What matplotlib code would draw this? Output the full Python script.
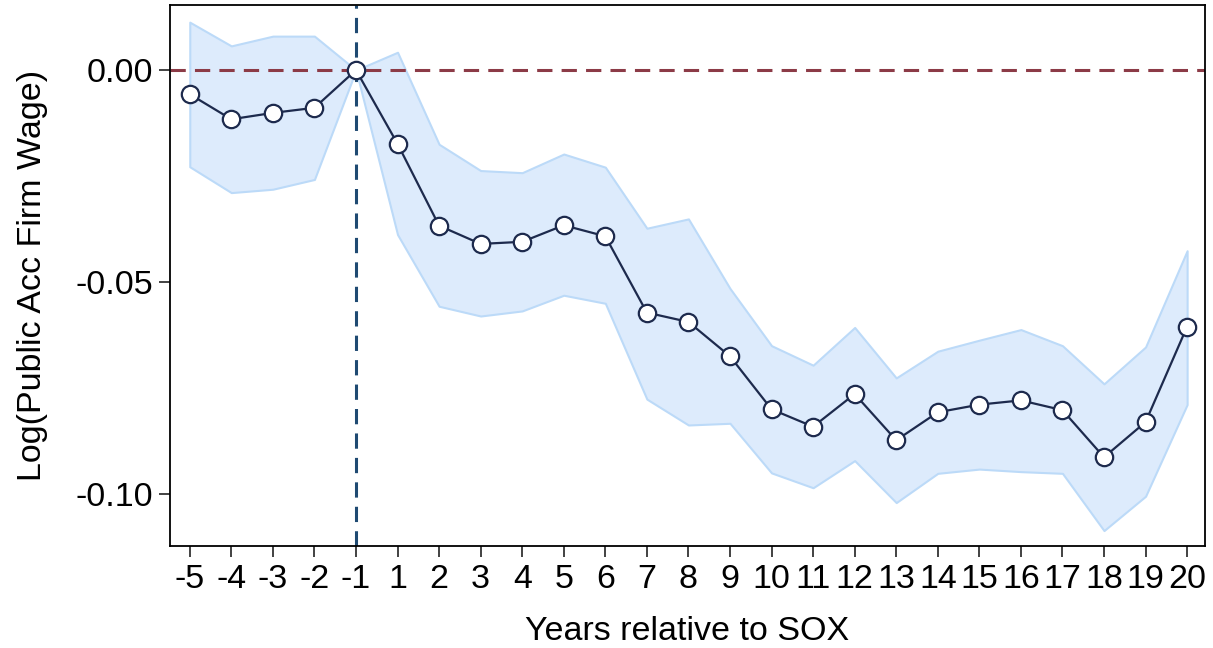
import numpy as np
import matplotlib
matplotlib.use('Agg')
import matplotlib.pyplot as plt

plt.rcParams['font.family'] = ['Liberation Sans', 'DejaVu Sans']

# event-time labels and estimates
years = ['-5', '-4', '-3', '-2', '-1', '1', '2', '3', '4', '5', '6', '7', '8',
         '9', '10', '11', '12', '13', '14', '15', '16', '17', '18', '19', '20']
coef = [-0.0057, -0.0116, -0.0101, -0.0089, 0.0, -0.0174, -0.0367, -0.0410,
        -0.0405, -0.0366, -0.0392, -0.0572, -0.0594, -0.0675, -0.0800, -0.0841,
        -0.0764, -0.0873, -0.0807, -0.0789, -0.0779, -0.0802, -0.0913, -0.0830,
        -0.0605]
ci_hi = [0.0113, 0.0057, 0.0080, 0.0080, 0.0, 0.0042, -0.0175, -0.0237,
         -0.0242, -0.0198, -0.0229, -0.0373, -0.0351, -0.0515, -0.0650, -0.0696,
         -0.0607, -0.0726, -0.0663, -0.0637, -0.0612, -0.0650, -0.0740, -0.0653,
         -0.0426]
ci_lo = [-0.0228, -0.0289, -0.0281, -0.0258, 0.0, -0.0388, -0.0557, -0.0580,
         -0.0568, -0.0531, -0.0550, -0.0776, -0.0837, -0.0833, -0.0950, -0.0985,
         -0.0921, -0.1020, -0.0951, -0.0941, -0.0947, -0.0951, -0.1086, -0.1005,
         -0.0789]
yticks = [0.0, -0.05, -0.10]

x = np.arange(len(years))
ref_idx = years.index('-1')

fig = plt.figure(figsize=(12.13, 6.48), dpi=100)
ax = fig.add_axes([0.140, 0.157, 0.8534, 0.835])

ax.fill_between(x, ci_lo, ci_hi, facecolor='#ddebfc', edgecolor='#bcdaf8',
                linewidth=1.5, zorder=1)
ax.axhline(0, color='#8c3b47', linestyle=(0, (5, 3)), linewidth=2.2, zorder=2)
ax.axvline(ref_idx, color='#1f4a72', linestyle=(0, (5, 3)), linewidth=2.2, zorder=2)
ax.plot(x, coef, color='#1d2a4d', linewidth=1.6, marker='o', markersize=12.5,
        markerfacecolor='white', markeredgecolor='#1d2a4d', markeredgewidth=1.6,
        zorder=3)

ax.set_xlim(-0.48, 24.43)
ax.set_ylim(-0.1123, 0.0153)
ax.set_xticks(x)
ax.set_xticklabels(years)
ax.set_yticks(yticks)
ax.set_yticklabels(['%.2f' % v for v in yticks])
ax.tick_params(axis='both', direction='out', length=8, width=1.2, labelsize=24.5,
               pad=5, color='#222222')
ax.tick_params(axis='y', pad=4)

ax.set_xlabel('Years relative to SOX', fontsize=24.5, labelpad=15)
ax.set_ylabel('Log(Public Acc Firm Wage)', fontsize=24.5, labelpad=20)

for s in ax.spines.values():
    s.set_linewidth(1.3)

fig.savefig('out.png', dpi=100)
